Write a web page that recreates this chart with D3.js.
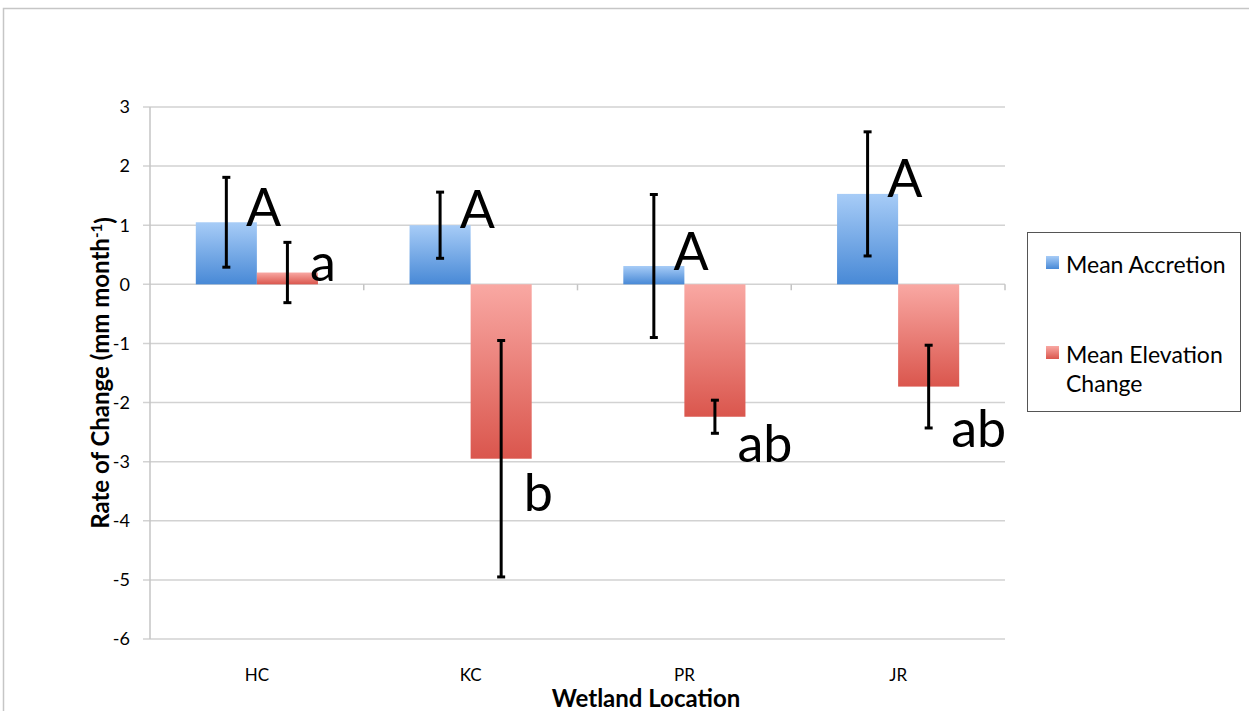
<!DOCTYPE html>
<html lang="en-US">
  <head>
    <meta charset="utf-8">
    <style>
      body { margin: 0; background: #fff; }
      text { font-family: Lato, "Open Sans", sans-serif; fill: #000; }
    </style>
  </head>
  <body>
    <div id="chart"></div>
    <script src="https://cdnjs.cloudflare.com/ajax/libs/d3/7.8.5/d3.min.js"></script>
    <script>
      var WIDTH = 1249;
      var HEIGHT = 711;

      // data
      var locations = ['HC', 'KC', 'PR', 'JR'];
      var seriesNames = ['Mean Accretion', 'Mean Elevation Change'];
      var accretion = [1.05, 1.0, 0.31, 1.53];
      var accretionErr = [0.76, 0.56, 1.21, 1.05];
      var elevation = [0.2, -2.95, -2.24, -1.73];
      var elevationErr = [0.51, 2.0, 0.28, 0.70];
      // significance letters and where they sit (in data units)
      var accretionLetters = ['A', 'A', 'A', 'A'];
      var accretionLetterY = [0.98, 0.96, 0.25, 1.47];
      var elevationLetters = ['a', 'b', 'ab', 'ab'];
      var elevationLetterY = [0.05, -3.83, -3.01, -2.76];
      var yTicks = [3, 2, 1, 0, -1, -2, -3, -4, -5, -6];

      // note: "top" is window.top, so use other names
      var plotLeft = 150, plotRight = 1005, plotTop = 107, plotBottom = 639;

      var svg = d3.select('#chart').append('svg')
        .attr('width', WIDTH).attr('height', HEIGHT);

      // outer frame
      svg.append('rect')
        .attr('x', 3.5).attr('y', 8.5).attr('width', 1300).attr('height', 800)
        .attr('fill', 'none').attr('stroke', '#c6c6c6').attr('stroke-width', 1.5);

      var defs = svg.append('defs');
      var gradColors = {
        'Mean Accretion': ['#a7ccf7', '#4889d6'],
        'Mean Elevation Change': ['#f9a8a3', '#da564d']
      };
      seriesNames.forEach(function (s, i) {
        var g = defs.append('linearGradient').attr('id', 'grad' + i)
          .attr('x1', 0).attr('y1', 0).attr('x2', 0).attr('y2', 1);
        g.append('stop').attr('offset', '0%').attr('stop-color', gradColors[s][0]);
        g.append('stop').attr('offset', '100%').attr('stop-color', gradColors[s][1]);
      });

      var x0 = d3.scaleBand().domain(locations).range([plotLeft, plotRight]);
      var x1 = d3.scaleBand().domain(seriesNames).range([0, x0.bandwidth()]).paddingOuter(0.75);
      var y = d3.scaleLinear().domain([-6, 3]).range([plotBottom, plotTop]);

      // gridlines
      svg.append('g').selectAll('line').data(yTicks).join('line')
        .attr('x1', plotLeft - 7).attr('x2', plotRight)
        .attr('y1', function (d) { return y(d); }).attr('y2', function (d) { return y(d); })
        .attr('stroke', '#d2d2d2').attr('stroke-width', 1.5);

      // y axis line
      svg.append('line')
        .attr('x1', plotLeft).attr('x2', plotLeft).attr('y1', plotTop).attr('y2', plotBottom)
        .attr('stroke', '#c4c4c4').attr('stroke-width', 1.5);

      // y tick labels
      svg.append('g').selectAll('text').data(yTicks).join('text')
        .attr('x', 130).attr('y', function (d) { return y(d); })
        .attr('dy', '0.35em').attr('text-anchor', 'end')
        .style('font-size', '18px')
        .text(function (d) { return d; });

      // category ticks on zero line
      svg.append('g').selectAll('line').data(locations.slice(1).concat(['end'])).join('line')
        .attr('x1', function (d) { return d === 'end' ? plotRight : x0(d); })
        .attr('x2', function (d) { return d === 'end' ? plotRight : x0(d); })
        .attr('y1', y(0)).attr('y2', y(0) + 6)
        .attr('stroke', '#c4c4c4').attr('stroke-width', 1.5);

      var rows = locations.map(function (loc, i) {
        return [
          { loc: loc, s: seriesNames[0], si: 0, v: accretion[i], e: accretionErr[i], lab: accretionLetters[i], ly: accretionLetterY[i] },
          { loc: loc, s: seriesNames[1], si: 1, v: elevation[i], e: elevationErr[i], lab: elevationLetters[i], ly: elevationLetterY[i] }
        ];
      }).flat();

      var bx = function (d) { return x0(d.loc) + x1(d.s); };

      // bars
      svg.append('g').selectAll('rect').data(rows).join('rect')
        .attr('x', bx)
        .attr('width', x1.bandwidth())
        .attr('y', function (d) { return y(Math.max(0, d.v)); })
        .attr('height', function (d) { return Math.abs(y(d.v) - y(0)); })
        .attr('fill', function (d) { return 'url(#grad' + d.si + ')'; });

      // error bars
      var eb = svg.append('g').selectAll('g').data(rows).join('g')
        .attr('stroke', '#000').attr('stroke-width', 3);
      eb.append('line')
        .attr('x1', function (d) { return bx(d) + x1.bandwidth() / 2; })
        .attr('x2', function (d) { return bx(d) + x1.bandwidth() / 2; })
        .attr('y1', function (d) { return y(d.v + d.e); })
        .attr('y2', function (d) { return y(d.v - d.e); });
      [1, -1].forEach(function (sign) {
        eb.append('line')
          .attr('x1', function (d) { return bx(d) + x1.bandwidth() / 2 - 4; })
          .attr('x2', function (d) { return bx(d) + x1.bandwidth() / 2 + 4; })
          .attr('y1', function (d) { return y(d.v + sign * d.e); })
          .attr('y2', function (d) { return y(d.v + sign * d.e); });
      });

      // significance letters
      svg.append('g').selectAll('text').data(rows).join('text')
        .attr('x', function (d) { return bx(d) + x1.bandwidth() - (d.si === 0 ? 11 : 8); })
        .attr('y', function (d) { return y(d.ly); })
        .style('font-size', '52px')
        .text(function (d) { return d.lab; });

      // x labels
      svg.append('g').selectAll('text').data(locations).join('text')
        .attr('x', function (d) { return x0(d) + x0.bandwidth() / 2; })
        .attr('y', 681).attr('text-anchor', 'middle')
        .style('font-size', '17px')
        .text(function (d) { return d; });

      // axis titles
      svg.append('text')
        .attr('x', 646).attr('y', 707).attr('text-anchor', 'middle')
        .style('font-size', '24px').style('font-weight', 'bold')
        .text('Wetland Location');

      var yt = svg.append('text')
        .attr('transform', 'translate(109,' + (plotTop + plotBottom) / 2 + ') rotate(-90)')
        .attr('text-anchor', 'middle')
        .style('font-size', '24px').style('font-weight', 'bold');
      yt.append('tspan').text('Rate of Change (mm month');
      yt.append('tspan').attr('dy', '-0.45em').style('font-size', '15px').text('-1');
      yt.append('tspan').attr('dy', '0.45em').text(')');

      // legend
      var lg = svg.append('g');
      lg.append('rect')
        .attr('x', 1027.5).attr('y', 232.5).attr('width', 213).attr('height', 179)
        .attr('fill', '#fff').attr('stroke', '#555').attr('stroke-width', 1);
      var legendY = [256, 346];
      seriesNames.forEach(function (s, i) {
        lg.append('rect')
          .attr('x', 1046).attr('y', legendY[i]).attr('width', 13).attr('height', 13)
          .attr('fill', 'url(#grad' + i + ')');
      });
      lg.append('text').attr('x', 1066).attr('y', 273).style('font-size', '23px').text('Mean Accretion');
      lg.append('text').attr('x', 1066).attr('y', 363).style('font-size', '23px').text('Mean Elevation');
      lg.append('text').attr('x', 1066).attr('y', 392).style('font-size', '23px').text('Change');
    </script>
  </body>
</html>
